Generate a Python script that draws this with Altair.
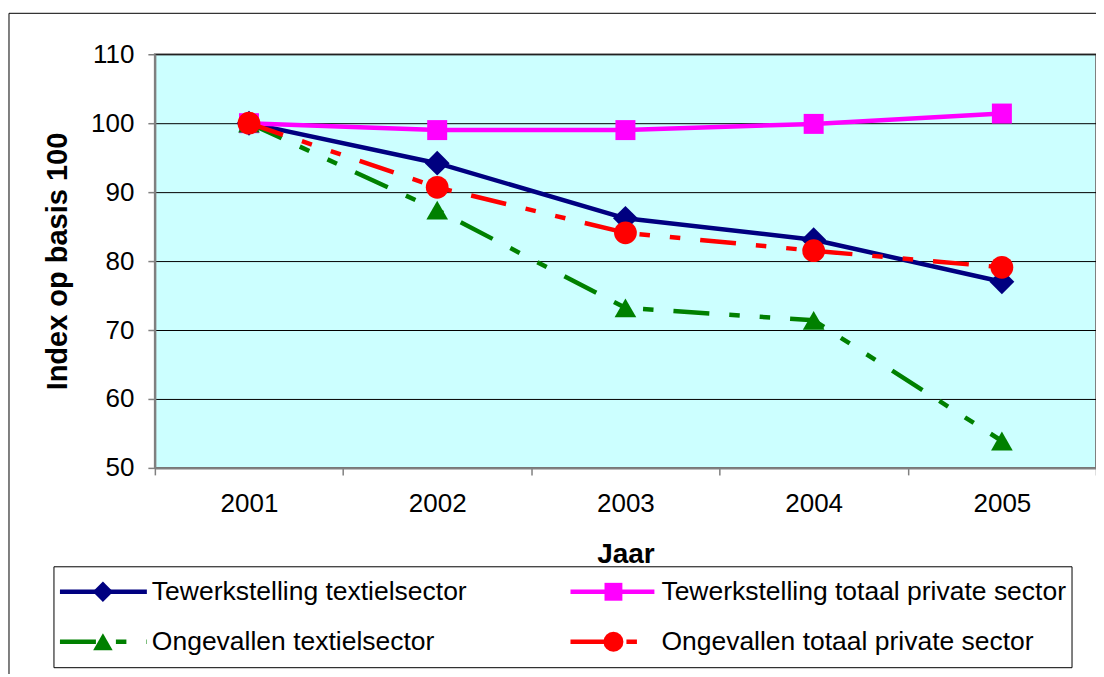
import altair as alt
import pandas as pd

# ---- data ----
years = ["2001", "2002", "2003", "2004", "2005"]
series_names = [
    "Tewerkstelling textielsector",
    "Tewerkstelling totaal private sector",
    "Ongevallen textielsector",
    "Ongevallen totaal private sector",
]
tewerkstelling_textiel = [100.0, 94.2, 86.2, 83.1, 77.0]
tewerkstelling_totaal = [100.0, 99.0, 99.0, 99.9, 101.4]
ongevallen_textiel = [100.0, 87.4, 73.2, 71.4, 53.9]
ongevallen_totaal = [100.0, 90.7, 84.1, 81.5, 79.1]
y_ticks = [50, 60, 70, 80, 90, 100, 110]

series_values = [tewerkstelling_textiel, tewerkstelling_totaal,
                 ongevallen_textiel, ongevallen_totaal]

# ---- styles ----
colors = ["#000080", "#FF00FF", "#008000", "#FF0000"]
shapes = ["diamond", "square", "triangle-up", "circle"]
marker_sizes = [620, 400, 470, 520]
legend_marker_sizes = [420, 320, 380, 400]
dash = [36, 20, 10.5, 20, 10.5, 20]
dashes = [None, None, dash, dash]

FONT = "Liberation Sans"
W, H = 942, 414
LW = 4.5

x_enc = alt.X(
    "year:O",
    scale=alt.Scale(type="band", domain=years, paddingInner=0, paddingOuter=0),
    bandPosition=0.5,
    axis=alt.Axis(
        title="Jaar", titleFont=FONT, titleFontSize=28, titleFontWeight="bold",
        titleColor="black", titleY=95, titleBaseline="alphabetic",
        labelFont=FONT, labelFontSize=26, labelColor="black", labelAngle=0,
        labelBaseline="middle", labelPadding=29,
        tickBand="extent", tickSize=7, tickColor="#808080", tickWidth=1.5,
        domainColor="#808080", domainWidth=2, grid=False,
    ),
)
y_enc = alt.Y(
    "value:Q",
    scale=alt.Scale(domain=[50, 110], nice=False, zero=False),
    axis=alt.Axis(
        title="Index op basis 100", values=y_ticks,
        titleFont=FONT, titleFontSize=29, titleFontWeight="bold", titleColor="black",
        titleX=-88, titleY=H / 2, titleAngle=270, titleBaseline="alphabetic",
        titleAlign="center",
        labelFont=FONT, labelFontSize=26, labelColor="black", labelPadding=14,
        tickSize=7, tickColor="#808080", tickWidth=1.5,
        domainColor="#808080", domainWidth=2,
        grid=True, gridColor="#000000", gridWidth=1,
    ),
)

layers = []
for i, name in enumerate(series_names):
    d = pd.DataFrame({"year": years, "value": series_values[i]})
    lk = dict(color=colors[i], strokeWidth=LW, strokeJoin="round", strokeCap="butt")
    if dashes[i]:
        lk["strokeDash"] = dashes[i]
    layers.append(alt.Chart(d).mark_line(**lk).encode(x=x_enc, y=y_enc))
    layers.append(
        alt.Chart(d).mark_point(shape=shapes[i], size=marker_sizes[i], filled=True,
                                color=colors[i], opacity=1, strokeWidth=0)
        .encode(x=x_enc, y=y_enc)
    )

one = pd.DataFrame({"k": [0]})

# outer chart frame
layers.append(alt.Chart(one).mark_rule(color="black", strokeWidth=1).encode(
    x=alt.value(-146), y=alt.value(-41), y2=alt.value(700)))
layers.append(alt.Chart(one).mark_rule(color="black", strokeWidth=1).encode(
    x=alt.value(-146), x2=alt.value(1000), y=alt.value(-41)))

# legend box
layers.append(alt.Chart(one).mark_rect(fill="white", stroke="black", strokeWidth=1).encode(
    x=alt.value(-101), x2=alt.value(918), y=alt.value(513), y2=alt.value(614)))

col_line = [(-95, -8), (416, 500)]
col_marker = [-52, 459]
col_text = [-3, 507]
row_y = [538, 588]
for i, name in enumerate(series_names):
    c, r = i % 2, i // 2
    rk = dict(color=colors[i], strokeWidth=LW, strokeCap="butt")
    if dashes[i]:
        rk["strokeDash"] = dashes[i]
    layers.append(alt.Chart(one).mark_rule(**rk).encode(
        x=alt.value(col_line[c][0]), x2=alt.value(col_line[c][1]), y=alt.value(row_y[r])))
    layers.append(alt.Chart(one).mark_point(shape=shapes[i], size=legend_marker_sizes[i],
                                            filled=True, color=colors[i], opacity=1,
                                            strokeWidth=0).encode(
        x=alt.value(col_marker[c]), y=alt.value(row_y[r])))
    layers.append(alt.Chart(one).mark_text(align="left", baseline="middle", font=FONT,
                                           fontSize=26.5, color="black").encode(
        x=alt.value(col_text[c]), y=alt.value(row_y[r]), text=alt.value(name)))

chart = (
    alt.layer(*layers)
    .properties(
        width=W, height=H,
        autosize=alt.AutoSizeParams(type="none"),
        padding={"left": 147, "top": 46, "right": 0, "bottom": 206},
        background="white",
    )
    .configure_view(fill="#CCFFFF", stroke="#808080", strokeWidth=2)
)

chart.save("out.html", embed_options={"renderer": "svg", "actions": False})
